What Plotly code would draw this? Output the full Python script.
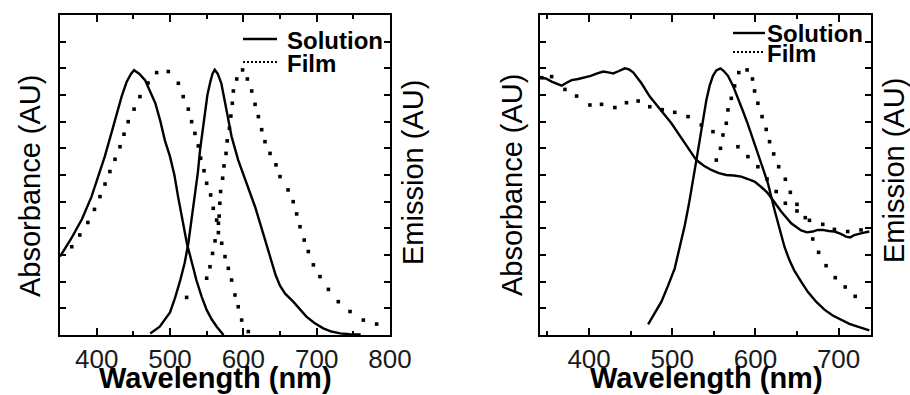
import plotly.graph_objects as go

# ---------------- Left panel data ----------------
L_sol_abs_wl = [350, 365, 380, 393, 402, 411, 420, 428, 434, 441, 447, 451, 458, 466, 472, 480, 487, 493, 500, 506, 511, 517, 523, 530, 536, 543, 550, 557, 564, 573]
L_sol_abs = [0.294, 0.36, 0.435, 0.519, 0.594, 0.669, 0.756, 0.84, 0.894, 0.95, 0.98, 0.993, 0.98, 0.956, 0.92, 0.869, 0.8, 0.73, 0.669, 0.6, 0.519, 0.43, 0.344, 0.27, 0.206, 0.145, 0.094, 0.058, 0.03, 0.0]

L_sol_em_wl = [473, 486, 500, 507, 514, 520, 525, 530, 534, 538, 541, 545, 548, 551, 555, 558, 561, 565, 570, 577, 584, 593, 604, 616, 627, 636, 644, 650, 657, 668, 677, 686, 697, 709, 720, 732, 745, 760]
L_sol_em = [0.006, 0.031, 0.085, 0.14, 0.206, 0.27, 0.344, 0.44, 0.519, 0.61, 0.694, 0.78, 0.844, 0.9, 0.95, 0.98, 0.995, 0.98, 0.944, 0.844, 0.744, 0.656, 0.569, 0.481, 0.381, 0.294, 0.225, 0.185, 0.155, 0.125, 0.095, 0.069, 0.045, 0.025, 0.013, 0.006, 0.003, 0.002]

L_film_abs_wl = [366, 377, 388, 397, 404.5, 411.4, 418, 425, 431.8, 437.3, 443, 451, 459, 470, 481.8, 497.7, 511.4, 518, 525, 529.5, 534, 538.6, 541.8, 546.4, 550, 555.4, 559, 563.6, 566, 570.5, 575, 579.5, 584, 588.6, 593, 597.7, 606.8]
L_film_abs = [0.331, 0.375, 0.422, 0.471, 0.519, 0.566, 0.613, 0.659, 0.706, 0.753, 0.8, 0.847, 0.894, 0.945, 0.984, 0.988, 0.944, 0.894, 0.847, 0.8, 0.756, 0.709, 0.663, 0.616, 0.569, 0.525, 0.475, 0.431, 0.384, 0.344, 0.294, 0.25, 0.206, 0.15, 0.106, 0.056, 0.013]

L_film_em_wl = [522.7, 550, 554.5, 558, 561.4, 566, 567, 568, 569, 571.8, 573.6, 576.4, 578, 581, 583, 585, 586.4, 591, 599, 605.5, 611.4, 616, 620.5, 625, 629.5, 636.4, 644.5, 650, 661, 668, 672.7, 677.3, 683, 688.6, 695.5, 704.5, 716, 729.5, 745.5, 763.6, 781.8]
L_film_em = [0.141, 0.213, 0.256, 0.306, 0.353, 0.419, 0.446, 0.494, 0.538, 0.588, 0.634, 0.681, 0.728, 0.775, 0.821, 0.869, 0.915, 0.96, 0.994, 0.96, 0.915, 0.865, 0.819, 0.77, 0.725, 0.681, 0.638, 0.594, 0.544, 0.5, 0.454, 0.406, 0.356, 0.313, 0.263, 0.219, 0.171, 0.125, 0.088, 0.056, 0.041]

# ---------------- Right panel data ----------------
R_sol_abs_wl = [341, 348, 355, 362, 367, 373, 379, 387, 395, 402, 409, 417, 423, 429, 436, 443, 448, 453, 458, 463, 473, 483, 491, 499, 507, 515, 522, 529, 538, 547, 556, 565, 574, 583, 591, 599, 607, 614, 621, 631, 643, 655, 662, 669, 675, 681, 688, 695, 702, 709, 714, 719, 728, 737]
R_sol_abs = [0.965, 0.962, 0.95, 0.942, 0.935, 0.946, 0.956, 0.96, 0.966, 0.972, 0.98, 0.988, 0.985, 0.981, 0.99, 1.0, 0.996, 0.985, 0.965, 0.944, 0.894, 0.856, 0.825, 0.794, 0.757, 0.719, 0.688, 0.656, 0.635, 0.619, 0.607, 0.6, 0.598, 0.594, 0.585, 0.575, 0.555, 0.535, 0.506, 0.463, 0.419, 0.392, 0.385, 0.388, 0.394, 0.394, 0.39, 0.388, 0.38, 0.369, 0.366, 0.375, 0.382, 0.388]

R_sol_em_wl = [471, 480, 487, 495, 503, 509, 515, 520, 525, 529, 533, 537, 541, 545, 549, 553, 558, 562, 567, 573, 579, 585, 591, 597, 603, 609, 615, 623, 629, 635, 641, 647, 655, 663, 673, 683, 693, 703, 713, 723, 737]
R_sol_em = [0.04, 0.085, 0.125, 0.185, 0.25, 0.33, 0.41, 0.49, 0.575, 0.655, 0.73, 0.81, 0.88, 0.935, 0.972, 0.992, 1.0, 0.99, 0.972, 0.935, 0.89, 0.84, 0.79, 0.735, 0.675, 0.62, 0.57, 0.469, 0.394, 0.33, 0.28, 0.24, 0.2, 0.162, 0.125, 0.095, 0.073, 0.056, 0.042, 0.031, 0.017]

R_film_abs_wl = [343, 355, 371, 385, 401, 415, 431, 445, 459, 473, 488, 503, 519, 535, 549, 561, 579, 591, 603, 614, 625, 636, 650, 665, 681, 695, 711, 727]
R_film_abs = [0.965, 0.969, 0.921, 0.896, 0.8625, 0.865, 0.853, 0.871, 0.8775, 0.856, 0.845, 0.835, 0.819, 0.7875, 0.7625, 0.75, 0.706, 0.669, 0.631, 0.585, 0.538, 0.494, 0.465, 0.43, 0.415, 0.396, 0.388, 0.394]

R_film_em_wl = [553, 558, 565, 567, 571, 575, 580, 590, 596.5, 599, 603, 608, 613, 617, 622, 628, 636, 642, 650, 660, 669, 676, 685, 696, 708, 720]
R_film_em = [0.656, 0.7, 0.794, 0.844, 0.8875, 0.934, 0.984, 0.994, 0.96, 0.915, 0.869, 0.819, 0.771, 0.725, 0.679, 0.631, 0.584, 0.535, 0.49, 0.44, 0.36, 0.31, 0.26, 0.215, 0.18, 0.145]

L_tick_vals = [400, 500, 600, 700, 800]
R_tick_vals = [400, 500, 600, 700]
legend_labels = ["Solution", "Film"]
x_title = "Wavelength (nm)"
y_left_title = "Absorbance (AU)"
y_right_title = "Emission (AU)"

FONT = "Liberation Sans, Arial, Helvetica, sans-serif"
W, H = 910, 395
TOP, BOT = 15, 335


def px(x):
    return x / W


def py(y):
    return (BOT - y) / (BOT - TOP)


solid = dict(color="black", width=2.4)
dots = dict(color="black", size=3.6, symbol="square")

fig = go.Figure()
fig.add_trace(go.Scatter(x=L_sol_abs_wl, y=L_sol_abs, mode="lines", line=solid, xaxis="x", yaxis="y", name="Solution absorbance"))
fig.add_trace(go.Scatter(x=L_film_abs_wl, y=L_film_abs, mode="markers", marker=dots, xaxis="x", yaxis="y", name="Film absorbance"))
fig.add_trace(go.Scatter(x=L_sol_em_wl, y=L_sol_em, mode="lines", line=solid, xaxis="x", yaxis="y2", name="Solution emission"))
fig.add_trace(go.Scatter(x=L_film_em_wl, y=L_film_em, mode="markers", marker=dots, xaxis="x", yaxis="y2", name="Film emission"))

fig.add_trace(go.Scatter(x=R_sol_abs_wl, y=R_sol_abs, mode="lines", line=solid, xaxis="x2", yaxis="y3", name="Solution absorbance"))
fig.add_trace(go.Scatter(x=R_film_abs_wl, y=R_film_abs, mode="markers", marker=dots, xaxis="x2", yaxis="y3", name="Film absorbance"))
fig.add_trace(go.Scatter(x=R_sol_em_wl, y=R_sol_em, mode="lines", line=solid, xaxis="x2", yaxis="y4", name="Solution emission"))
fig.add_trace(go.Scatter(x=R_film_em_wl, y=R_film_em, mode="markers", marker=dots, xaxis="x2", yaxis="y4", name="Film emission"))

xcommon = dict(showline=True, linecolor="black", linewidth=2, mirror="ticks",
               ticks="inside", ticklen=7, tickwidth=1.5, tickcolor="black",
               showgrid=False, zeroline=False, automargin=False,
               tickfont=dict(family=FONT, size=26, color="#1a1a1a"),
               minor=dict(ticks="inside", dtick=50, ticklen=4, tickwidth=1.5, tickcolor="black", showgrid=False))
ycommon = dict(showline=True, linecolor="black", linewidth=2, range=[0, 1.2],
               ticks="inside", ticklen=6, tickwidth=1.5, tickcolor="black", dtick=0.1,
               showticklabels=False, showgrid=False, zeroline=False, automargin=False)

fig.update_layout(
    template="none",
    width=W, height=H, autosize=False,
    margin=dict(l=0, r=0, t=TOP, b=H - BOT, pad=0),
    paper_bgcolor="white", plot_bgcolor="white",
    showlegend=False,
    xaxis=dict(domain=[px(60), px(390)], range=[350, 800], anchor="y", tickvals=L_tick_vals, **xcommon),
    yaxis=dict(domain=[0, 1], anchor="x", side="left", **ycommon),
    yaxis2=dict(overlaying="y", anchor="x", side="right", **ycommon),
    xaxis2=dict(domain=[px(540), px(871)], range=[341, 739], anchor="y3", tickvals=R_tick_vals, **xcommon),
    yaxis3=dict(domain=[0, 1], anchor="x2", side="left", **ycommon),
    yaxis4=dict(overlaying="y3", anchor="x2", side="right", **ycommon),
)

ann = []
# axis titles
for cx in (215, 706):
    ann.append(dict(x=px(cx), y=py(378), xref="paper", yref="paper", text=x_title, showarrow=False,
                    xanchor="center", yanchor="middle",
                    font=dict(family=FONT, size=29, color="black", weight="bold")))
for cx, cy in ((30, 186), (512, 185)):
    ann.append(dict(x=px(cx), y=py(cy), xref="paper", yref="paper", text=y_left_title, showarrow=False,
                    textangle=-90, xanchor="center", yanchor="middle",
                    font=dict(family=FONT, size=29, color="black")))
for cx, cy in ((413, 173), (894, 171)):
    ann.append(dict(x=px(cx), y=py(cy), xref="paper", yref="paper", text=y_right_title, showarrow=False,
                    textangle=-90, xanchor="center", yanchor="middle",
                    font=dict(family=FONT, size=29, color="black")))

# legends (drawn manually to match the compact original layout)
shapes = []
for (lx0, lx1, tx, y1, y2) in ((243, 277, 285, 39, 63), (733, 765, 765, 33, 53)):
    shapes.append(dict(type="line", xref="paper", yref="paper", x0=px(lx0), x1=px(lx1), y0=py(y1), y1=py(y1),
                       line=dict(color="black", width=2.4)))
    shapes.append(dict(type="line", xref="paper", yref="paper", x0=px(lx0), x1=px(lx1), y0=py(y2 - 1), y1=py(y2 - 1),
                       line=dict(color="black", width=2, dash="2px,2px")))
    for lab, yy in zip(legend_labels, (y1, y2)):
        ann.append(dict(x=px(tx), y=py(yy + 1), xref="paper", yref="paper", text=lab, showarrow=False,
                        xanchor="left", yanchor="middle",
                        font=dict(family=FONT, size=24, color="black", weight="bold")))

fig.update_layout(annotations=ann, shapes=shapes)
# remove the browser's default 8px page margin so the figure sits at the window origin
fig.write_html("out.html", config={"displayModeBar": False},
               post_script="document.body.style.margin='0';document.body.style.overflow='hidden';")
